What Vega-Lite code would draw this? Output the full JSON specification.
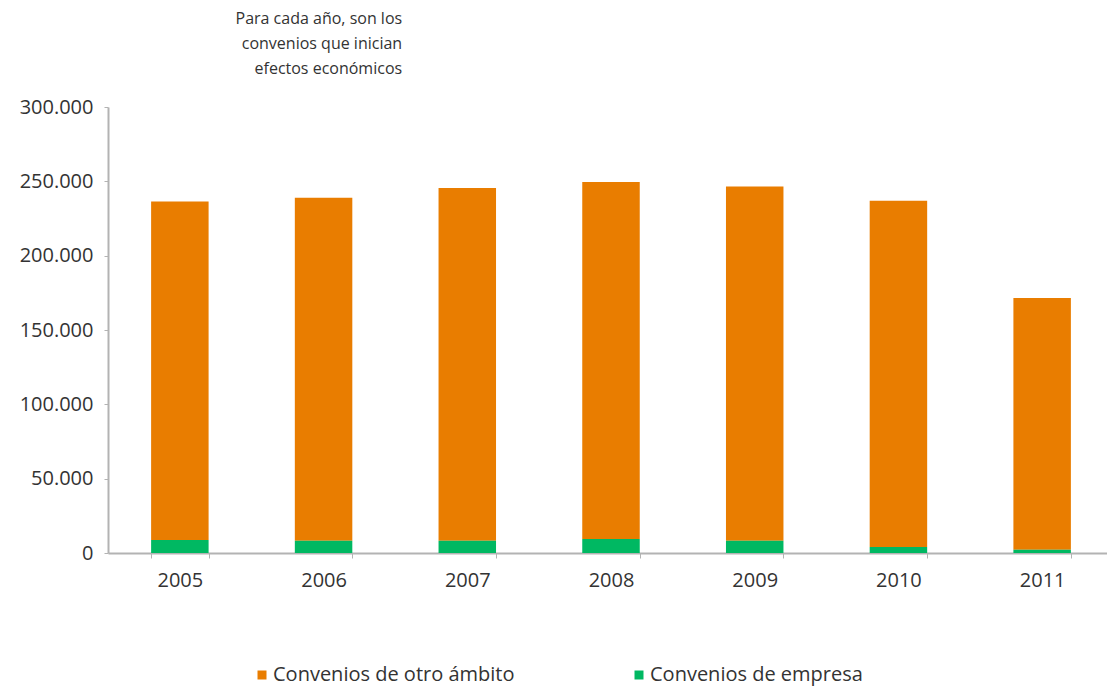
{
  "$schema": "https://vega.github.io/schema/vega-lite/v6.json",
  "autosize": "none",
  "width": 1006,
  "height": 446,
  "padding": {"left": 108, "top": 107, "right": 0, "bottom": 133},
  "background": "white",
  "config": {
    "font": "Open Sans",
    "view": {"stroke": null},
    "axis": {"labelFont": "Open Sans", "labelColor": "#333333", "domainColor": "#b3b3b3", "tickColor": "#b3b3b3", "grid": false}
  },
  "title": {
    "text": ["Para cada año, son los", "convenios que inician", "efectos económicos"],
    "anchor": "start",
    "align": "right",
    "dx": 383,
    "offset": 20,
    "fontSize": 16,
    "fontWeight": "normal",
    "color": "#333333",
    "lineHeight": 25,
    "font": "Open Sans"
  },
  "data": {
    "values": [
      {"year": "2005", "serie": "Convenios de otro ámbito", "value": 227800},
      {"year": "2005", "serie": "Convenios de empresa", "value": 8700},
      {"year": "2006", "serie": "Convenios de otro ámbito", "value": 230700},
      {"year": "2006", "serie": "Convenios de empresa", "value": 8300},
      {"year": "2007", "serie": "Convenios de otro ámbito", "value": 237200},
      {"year": "2007", "serie": "Convenios de empresa", "value": 8300},
      {"year": "2008", "serie": "Convenios de otro ámbito", "value": 240100},
      {"year": "2008", "serie": "Convenios de empresa", "value": 9400},
      {"year": "2009", "serie": "Convenios de otro ámbito", "value": 238200},
      {"year": "2009", "serie": "Convenios de empresa", "value": 8300},
      {"year": "2010", "serie": "Convenios de otro ámbito", "value": 233000},
      {"year": "2010", "serie": "Convenios de empresa", "value": 4000},
      {"year": "2011", "serie": "Convenios de otro ámbito", "value": 169300},
      {"year": "2011", "serie": "Convenios de empresa", "value": 2200}
    ]
  },
  "mark": {"type": "bar"},
  "encoding": {
    "x": {
      "field": "year",
      "type": "nominal",
      "scale": {"paddingInner": 0.6, "paddingOuter": 0.3},
      "axis": {
        "title": null,
        "labelAngle": 0,
        "labelFontSize": 20,
        "labelPadding": 12,
        "tickSize": 5,
        "tickBand": "extent",
        "domainWidth": 2
      }
    },
    "y": {
      "field": "value",
      "type": "quantitative",
      "stack": "zero",
      "scale": {"domain": [0, 300000], "nice": false},
      "axis": {
        "title": null,
        "values": [0, 50000, 100000, 150000, 200000, 250000, 300000],
        "format": ",d",
        "labelExpr": "replace(datum.label, /,/g, '.')",
        "labelFontSize": 20,
        "labelPadding": 11,
        "tickSize": 4,
        "domainWidth": 2
      }
    },
    "color": {
      "field": "serie",
      "type": "nominal",
      "scale": {"domain": ["Convenios de otro ámbito", "Convenios de empresa"], "range": ["#E97D00", "#00B862"]},
      "legend": {
        "title": null,
        "orient": "none",
        "legendX": 144,
        "legendY": 558,
        "direction": "horizontal",
        "symbolType": "square",
        "symbolSize": 81,
        "symbolOffset": 0,
        "labelOffset": 1,
        "labelFontSize": 20,
        "labelColor": "#333333",
        "labelLimit": 400,
        "columnPadding": 114
      }
    },
    "order": {"field": "serie", "sort": "ascending"}
  }
}
